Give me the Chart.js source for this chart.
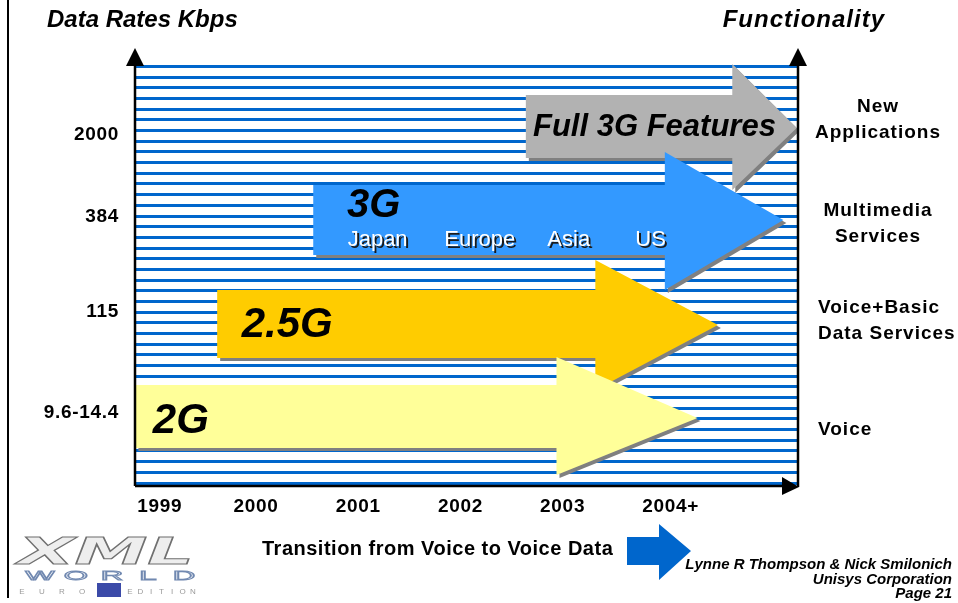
<!DOCTYPE html>
<html>
<head>
<meta charset="utf-8">
<script src="https://cdn.jsdelivr.net/npm/chart.js@4"></script>
<style>
  body { margin: 0; background: #fff; }
  #wrap { position: relative; width: 958px; height: 603px; }
</style>
</head>
<body>
<div id="wrap"><canvas id="roadmap"></canvas></div>
<script>
// Tiers, bottom to top
const tiers = ["2G", "2.5G", "3G", "Full 3G Features"];
const rateLabels = ["9.6-14.4", "115", "384", "2000"];
const rateLevel = [0.73, 1.74, 2.69, 3.51];
const functionality = [["Voice"], ["Voice+Basic", "Data Services"], ["Multimedia", "Services"], ["New", "Applications"]];
const functionalityLevel = [0.56, 1.655, 2.625, 3.665];
const years = ["1999", "2000", "2001", "2002", "2003", "2004+"];
const yearTicks = [1999, 2000, 2001, 2002, 2003, 2004];

// Arrow outlines, in (year, level) units
const arrowStart = [1998.82, 1999.62, 2000.56, 2002.64];
const headStart = [2002.94, 2003.32, 2004.0, 2004.66];
const arrowTip = [2004.32, 2004.52, 2005.16, 2005.29];
const shaftTop = [1.01, 1.96, 3.01, 3.91];
const shaftBottom = [0.38, 1.28, 2.31, 3.28];
const headTop = [1.29, 2.26, 3.34, 4.22];
const headBottom = [0.11, 0.96, 1.96, 2.96];
const tipLevel = [0.68, 1.61, 2.66, 3.58];
const tierLabelYear = [1998.99, 1999.86, 2000.89, 2002.71];
const tierLabelLevel = [0.65, 1.61, 2.80, 3.59];

const regions = ["Japan", "Europe", "Asia", "US"];
const regionYear = [2001.19, 2002.19, 2003.06, 2003.86];
const regionLevel = 2.46;

const credits = ["Lynne R Thompson & Nick Smilonich", "Unisys Corporation", "Page 21"];

const colors = {
  yellow: "#ffff99",
  gold: "#ffcc00",
  blue: "#3399ff",
  gray: "#b2b2b2",
  stripe: "#0066cc",
  shadow: "#808080",
  navy: "#0066cc",
};
const tierColors = [colors.yellow, colors.gold, colors.blue, colors.gray];
const tierFont = [42, 42, 40, 31];
const functionalityAlign = ["left", "left", "center", "center"];
const FONT = '"Liberation Sans", Arial, sans-serif';

// background stripes (texture, one every ~10.7px)
const stripeTicks = [];
for (let k = 0; k < 40; k++) stripeTicks.push(0.03 + k * 0.1068);

const datasets = tiers.map((t, i) => ({
  label: t,
  data: [
    { x: arrowStart[i], y: shaftTop[i] },
    { x: headStart[i], y: shaftTop[i] },
    { x: headStart[i], y: headTop[i] },
    { x: arrowTip[i], y: tipLevel[i] },
    { x: headStart[i], y: headBottom[i] },
    { x: headStart[i], y: shaftBottom[i] },
    { x: arrowStart[i], y: shaftBottom[i] },
    { x: arrowStart[i], y: shaftTop[i] },
  ],
  fill: "shape",
  backgroundColor: tierColors[i],
  borderColor: "transparent",
  borderWidth: 0,
  pointRadius: 0,
  pointHoverRadius: 0,
  tension: 0,
}));

function drawLogo(ctx) {
  ctx.save();
  ctx.textAlign = "left";
  ctx.textBaseline = "alphabetic";
  ctx.letterSpacing = "0px";
  // XML
  ctx.font = 'italic 900 40px "DejaVu Sans"';
  const w = ctx.measureText("XML").width;
  const g = ctx.createLinearGradient(0, 528, 0, 566);
  g.addColorStop(0, "#eeeeee");
  g.addColorStop(0.45, "#9c9c9c");
  g.addColorStop(0.6, "#c8c8c8");
  g.addColorStop(1, "#8a8a8a");
  ctx.save();
  ctx.translate(18, 564);
  ctx.scale(176 / w, 0.92);
  ctx.fillStyle = g;
  ctx.fillText("XML", 0, 0);
  ctx.strokeStyle = "#707070";
  ctx.lineWidth = 1;
  ctx.strokeText("XML", 0, 0);
  ctx.restore();
  // WORLD
  ctx.strokeStyle = "#7088b0";
  ctx.lineWidth = 0.8;
  ctx.font = "12px " + FONT;
  ctx.textAlign = "center";
  "WORLD".split("").forEach((c, i) => {
    ctx.save();
    ctx.translate(40 + i * 36, 580);
    ctx.scale(2.6, 1);
    ctx.strokeText(c, 0, 0);
    ctx.restore();
  });
  // EURO [ ] EDITION
  ctx.fillStyle = "#9a9a9a";
  ctx.font = "8px " + FONT;
  "EURO".split("").forEach((c, i) => ctx.fillText(c, 22 + i * 20, 594));
  "EDITION".split("").forEach((c, i) => ctx.fillText(c, 130 + i * 10.5, 594));
  ctx.fillStyle = "#3b4aa8";
  ctx.fillRect(97, 583, 24, 14);
  ctx.restore();
}

const slidePlugin = {
  id: "slide",
  beforeDatasetsDraw(chart) {
    const ctx = chart.ctx;
    ctx.save();
    ctx.shadowColor = colors.shadow;
    ctx.shadowOffsetX = 3;
    ctx.shadowOffsetY = 3;
    ctx.shadowBlur = 0;
  },
  afterDatasetsDraw(chart) {
    const ctx = chart.ctx;
    ctx.restore();
    const xs = chart.scales.x;
    const ys = chart.scales.y;

    ctx.save();
    ctx.textBaseline = "middle";
    // tier names inside the arrows
    ctx.fillStyle = "#000";
    ctx.textAlign = "left";
    tiers.forEach((t, i) => {
      ctx.font = "italic bold " + tierFont[i] + "px " + FONT;
      ctx.fillText(t, xs.getPixelForValue(tierLabelYear[i]), ys.getPixelForValue(tierLabelLevel[i]));
    });
    // regions on the 3G arrow
    ctx.font = "22px " + FONT;
    ctx.textAlign = "center";
    regions.forEach((r, i) => {
      const px = xs.getPixelForValue(regionYear[i]);
      const py = ys.getPixelForValue(regionLevel);
      ctx.fillStyle = "#1a1a1a";
      ctx.fillText(r, px + 2, py + 2);
      ctx.fillStyle = "#fff";
      ctx.fillText(r, px, py);
    });
    ctx.restore();
  },
  afterDraw(chart) {
    const ctx = chart.ctx;
    const { left, right, top, bottom } = chart.chartArea;
    const xs = chart.scales.x;
    const ys = chart.scales.y;
    ctx.save();

    // slide border
    ctx.fillStyle = "#000";
    ctx.fillRect(7, 0, 2, 598);

    // axes with arrow heads
    ctx.strokeStyle = "#000";
    ctx.lineWidth = 2.5;
    ctx.beginPath();
    ctx.moveTo(left, bottom);
    ctx.lineTo(left, top + 2);
    ctx.moveTo(right, bottom + 1);
    ctx.lineTo(right, top + 2);
    ctx.moveTo(left, bottom);
    ctx.lineTo(right - 16, bottom);
    ctx.stroke();
    ctx.beginPath();
    [left, right].forEach((x) => {
      ctx.moveTo(x - 9, top + 4);
      ctx.lineTo(x + 9, top + 4);
      ctx.lineTo(x, top - 14);
      ctx.closePath();
    });
    ctx.moveTo(right - 16, bottom - 9);
    ctx.lineTo(right - 16, bottom + 9);
    ctx.lineTo(right + 1, bottom + 1);
    ctx.closePath();
    ctx.fill();

    ctx.textBaseline = "middle";
    // titles
    ctx.font = "italic bold 24px " + FONT;
    ctx.textAlign = "left";
    ctx.fillText("Data Rates Kbps", 47, 20);
    ctx.textAlign = "right";
    ctx.letterSpacing = "1px";
    ctx.fillText("Functionality", 885, 20);

    // data rates (left)
    ctx.font = "bold 19px " + FONT;
    ctx.letterSpacing = "0.7px";
    ctx.textAlign = "right";
    rateLabels.forEach((r, i) => ctx.fillText(r, 119, ys.getPixelForValue(rateLevel[i])));

    // years (bottom)
    ctx.textAlign = "left";
    years.forEach((y, i) => {
      const core = ctx.measureText(y.replace("+", "")).width;
      ctx.fillText(y, xs.getPixelForValue(yearTicks[i]) - core / 2 + (i === 0 ? 6 : 0), 507);
    });

    // functionality (right)
    ctx.letterSpacing = "1px";
    functionality.forEach((lines, i) => {
      const mid = ys.getPixelForValue(functionalityLevel[i]);
      const align = functionalityAlign[i];
      ctx.textAlign = align;
      lines.forEach((ln, j) => {
        const py = mid + (j - (lines.length - 1) / 2) * 26;
        ctx.fillText(ln, align === "left" ? 818 : 878, py);
      });
    });

    // footer
    ctx.textAlign = "left";
    ctx.font = "bold 20px " + FONT;
    ctx.letterSpacing = "0.5px";
    ctx.fillText("Transition from Voice to Voice Data", 262, 549);
    ctx.letterSpacing = "0px";
    ctx.fillStyle = colors.navy;
    ctx.beginPath();
    ctx.moveTo(627, 537);
    ctx.lineTo(659, 537);
    ctx.lineTo(659, 524);
    ctx.lineTo(691, 551);
    ctx.lineTo(659, 580);
    ctx.lineTo(659, 565);
    ctx.lineTo(627, 565);
    ctx.closePath();
    ctx.fill();

    ctx.fillStyle = "#000";
    ctx.font = "italic bold 15px " + FONT;
    ctx.textAlign = "right";
    credits.forEach((c, i) => ctx.fillText(c, 952, 565 + i * 14.5));

    drawLogo(ctx);
    ctx.restore();
  },
};

new Chart(document.getElementById("roadmap").getContext("2d"), {
  type: "line",
  data: { datasets },
  options: {
    responsive: true,
    maintainAspectRatio: false,
    animation: false,
    events: [],
    layout: { padding: { left: 135, top: 62, right: 160, bottom: 117 } },
    plugins: {
      legend: { display: false },
      tooltip: { enabled: false },
    },
    scales: {
      x: { type: "linear", min: 1998.816, max: 2005.303, display: false },
      y: {
        type: "linear",
        min: 0,
        max: 4.24,
        display: true,
        afterBuildTicks: (scale) => {
          scale.ticks = stripeTicks.map((v) => ({ value: v }));
        },
        ticks: { display: false },
        border: { display: false },
        grid: { color: colors.stripe, lineWidth: 3, drawTicks: false },
      },
    },
  },
  plugins: [slidePlugin],
});
</script>
</body>
</html>
